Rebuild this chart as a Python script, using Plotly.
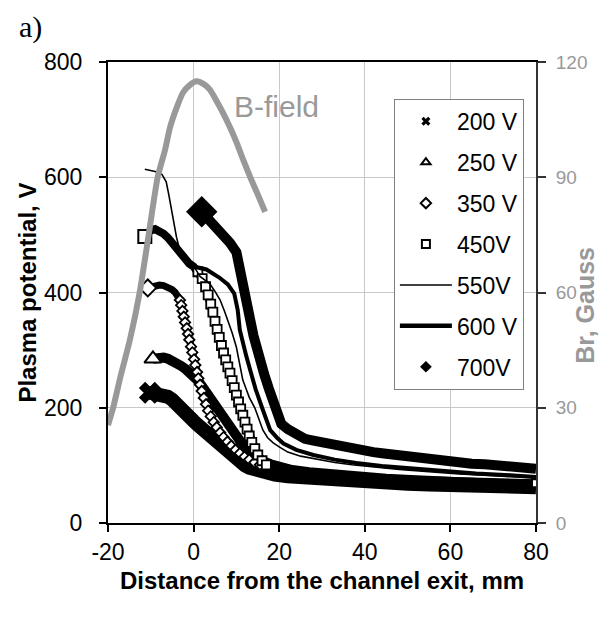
import plotly.graph_objects as go

# ---- plasma potential profiles: distance from channel exit (mm) / potential (V)
x_200 = [-10.2, -9, -8, -7, -6, -5, -4, -3, -2, -1, 0, 1, 2, 3, 4, 5, 6, 7, 8, 9, 10, 11, 12, 13, 14, 15,
         17, 19, 22, 25, 30, 35, 40, 45, 50, 55, 60, 65, 70, 75, 80]
v_200 = [226, 225, 224, 222, 219, 214, 208, 200, 192, 185, 177, 170, 163, 156, 149, 142, 137, 131, 125, 118,
         111, 105, 100, 96, 93, 91, 87, 84, 81, 79, 76, 74, 72, 70, 68, 67, 66, 65, 64, 63, 62]

x_250 = [-9.5, -8, -7, -6, -5, -4, -3, -2, -1, 0, 1, 2, 3, 4, 5, 6, 7, 8, 9, 10, 11, 12, 13, 14, 15, 16,
         18, 20, 23, 27, 32, 38, 45, 52, 60, 68, 75, 80]
v_250 = [285, 287, 287, 285, 282, 278, 273, 268, 262, 255, 247, 237, 226, 216, 207, 196, 185, 172, 159, 148,
         139, 130, 123, 117, 112, 108, 102, 97, 92, 88, 84, 80, 77, 74, 71, 69, 67, 65]

x_350 = [-10.7, -10, -9, -8, -7, -6, -5, -4.3, -3.7, -3.2, -2.9, -2.6, -2.3, -2.0, -1.6, -1.3, -1.0, -0.6,
         -0.3, 0.1, 0.4, 0.8, 1.1, 1.5, 1.9, 2.4, 2.9, 3.4, 4.0, 4.7, 5.4, 6.2, 7.0, 7.9, 8.8, 9.8, 10.8,
         11.9, 13.0, 14.2, 15.5, 17, 19, 21, 24, 28, 33, 39, 46, 53, 60, 67, 74, 80]
v_350 = [408, 410, 413, 413, 412, 410, 405, 400, 394, 387, 378, 368, 358, 348, 338, 328, 318, 306, 296, 284,
         274, 262, 251, 240, 229, 217, 206, 195, 185, 175, 166, 157, 149, 141, 134, 127, 121, 115, 110, 105,
         101, 97, 93, 90, 87, 84, 81, 78, 76, 74, 72, 70, 68, 67]

x_450 = [-11.4, -10, -9, -8, -7, -6, -5, -4, -3, -2, -1, 0, 1, 2, 2.8, 3.4, 4.0, 4.5, 5.0, 5.5, 6.0, 6.5,
         7.0, 7.5, 8.0, 8.5, 9.0, 9.5, 10.0, 10.5, 11.0, 11.5, 12.0, 12.5, 13.0, 13.6, 14.3, 15.0, 16.0,
         17.0, 18.5, 20, 23, 27, 32, 38, 45, 52, 60, 68, 75, 80]
v_450 = [497, 508, 510, 507, 502, 495, 486, 476, 466, 457, 450, 445, 436, 424, 410, 396, 380, 366, 350, 336,
         322, 308, 295, 283, 271, 260, 247, 235, 222, 210, 198, 187, 175, 163, 151, 140, 129, 118, 108, 101,
         95, 91, 87, 84, 81, 78, 76, 74, 72, 71, 70, 69]

x_550 = [-11.4, -9, -7.4, -6.4, -5.8, -5.2, -4.6, -4.0, -3.4, -2.5, -1, 0.5, 1.5, 3.8, 5.0, 6.2, 7.2, 8.0,
         9.0, 10.0, 10.8, 11.5, 12.3, 13.0, 14.3, 15.2, 16.2, 17.3, 18.6, 20, 22, 25, 29, 33, 37, 42, 48,
         55, 62, 70, 80]
v_550 = [614, 610, 605, 592, 570, 545, 520, 496, 478, 465, 452, 440, 428, 415, 402, 387, 368, 352, 330, 305,
         272, 248, 232, 218, 200, 180, 161, 148, 139, 132, 123, 116, 110, 105, 101, 97, 93, 89, 85, 82, 78]

x_600 = [-9.7, -8, -6, -4, -2, 0, 3, 6, 8, 9.5, 10.3, 10.8, 11.5, 12.3, 13.2, 14.5, 16.0, 17.0, 17.9, 19.5,
         21, 24, 28, 33, 38, 44, 50, 58, 66, 74, 80]
v_600 = [508, 508, 498, 478, 458, 445, 440, 426, 414, 398, 370, 335, 312, 290, 266, 232, 200, 178, 161, 148,
         138, 127, 118, 110, 104, 99, 95, 90, 86, 83, 80]

x_700 = [1.9, 3.5, 5.5, 7, 8.5, 10, 10.8, 11.5, 12, 12.7, 13.3, 14, 14.6, 15.5, 16.5, 17.5, 18.5, 19.5, 20.5,
         22, 24, 26, 28, 30, 32, 34, 36, 38, 40, 42, 44, 46, 48, 50, 53, 56, 59, 62, 65, 68, 71, 74, 77, 80]
v_700 = [540, 528, 514, 500, 486, 470, 445, 420, 399, 375, 350, 325, 305, 280, 258, 235, 210, 188, 172, 163,
         152, 146, 143, 140, 136, 132, 129, 125, 126, 123, 121, 119, 117, 114, 112, 109, 106, 104, 103, 102,
         101, 99, 97, 94]

# ---- radial magnetic field (Gauss)
x_bfield = [-20, -18.8, -17, -14.9, -12.6, -10.5, -8.4, -6.7, -5.5, -4, -2.5, -0.9, 0.7, 2.3, 3.8, 5.3, 6.9,
            8.5, 10.1, 11.6, 13.2, 15, 16.7]
br_bfield = [25.5, 30, 38.5, 47.6, 60, 75, 90, 97, 103, 108, 112, 114, 115, 114.3, 112.8, 110, 106.7, 103,
             98.9, 94.5, 90.1, 85.5, 81]

x_ticks = [-20, 0, 20, 40, 60, 80]
v_ticks = [0, 200, 400, 600, 800]
br_ticks = [0, 30, 60, 90, 120]
legend_names = ["200 V", "250 V", "350 V", "450V", "550V", "600 V", "700V"]

FONT = "Liberation Sans, Arial, sans-serif"
BLACK = "#000000"
GREY = "#999999"

fig = go.Figure()


def band(xs, ys, width):
    fig.add_trace(go.Scatter(x=xs, y=ys, mode="lines", showlegend=False, hoverinfo="skip",
                             line=dict(color=BLACK, width=width)))


def beads(xs, ys, lo, hi, symbol, size):
    sel = [(a, b) for a, b in zip(xs, ys) if lo <= a <= hi]
    fig.add_trace(go.Scatter(x=[p[0] for p in sel], y=[p[1] for p in sel], mode="markers",
                             showlegend=False, hoverinfo="skip",
                             marker=dict(symbol=symbol, size=size, color="white",
                                         line=dict(color=BLACK, width=1.8))))


def start_marker(xs, ys, symbol, size, fill):
    fig.add_trace(go.Scatter(x=xs[:1], y=ys[:1], mode="markers", showlegend=False, hoverinfo="skip",
                             marker=dict(symbol=symbol, size=size, color=fill,
                                         line=dict(color=BLACK, width=2))))


# 200 V
band(x_200, v_200, 14)
start_marker(x_200, v_200, "x", 17, BLACK)
# 250 V
band(x_250, v_250, 10)
start_marker(x_250, v_250, "triangle-up", 15, "white")
# 350 V
band(x_350, v_350, 7)
beads(x_350, v_350, -3.5, 16, "diamond", 8)
start_marker(x_350, v_350, "diamond", 13, "white")
# 450 V
band(x_450, v_450, 8)
beads(x_450, v_450, 1, 17.5, "square", 9)
start_marker(x_450, v_450, "square", 13, "white")
fig.add_trace(go.Scatter(x=x_450[-1:], y=v_450[-1:], mode="markers", showlegend=False, hoverinfo="skip",
                         marker=dict(symbol="square", size=8, color="white",
                                     line=dict(color=BLACK, width=2))))
# 550 V
band(x_550, v_550, 1.6)
# 600 V
band(x_600, v_600, 4)
# 700 V
band(x_700, v_700, 10)
start_marker(x_700, v_700, "diamond", 22, BLACK)

# B-field on the secondary axis
fig.add_trace(go.Scatter(x=x_bfield, y=br_bfield, yaxis="y2", mode="lines", showlegend=False,
                         hoverinfo="skip", line=dict(color=GREY, width=6, shape="spline", smoothing=0.6)))

# legend entries
legend_styles = [
    dict(mode="markers", marker=dict(symbol="x", size=8, color=BLACK)),
    dict(mode="markers", marker=dict(symbol="triangle-up-open", size=8, color=BLACK, line=dict(width=2))),
    dict(mode="markers", marker=dict(symbol="diamond-open", size=8, color=BLACK, line=dict(width=2))),
    dict(mode="markers", marker=dict(symbol="square-open", size=8, color=BLACK, line=dict(width=2))),
    dict(mode="lines", line=dict(color=BLACK, width=1.5)),
    dict(mode="lines", line=dict(color=BLACK, width=4.5)),
    dict(mode="markers", marker=dict(symbol="diamond", size=9, color=BLACK)),
]
for i, (name, style) in enumerate(zip(legend_names, legend_styles)):
    fig.add_trace(go.Scatter(x=[None], y=[None], name=name, legendgroup=f"g{i}", showlegend=True, **style))

fig.update_layout(
    width=600, height=618,
    margin=dict(l=108, r=64, t=62, b=95),
    paper_bgcolor="white", plot_bgcolor="white",
    font=dict(family=FONT, size=23, color=BLACK),
    xaxis=dict(range=[-20, 80], tickvals=x_ticks, ticktext=[str(t) for t in x_ticks],
               ticks="outside", ticklen=7, tickwidth=1.5,
               tickcolor=BLACK, showline=True, linecolor=BLACK, linewidth=2, mirror=True,
               showgrid=True, gridcolor="#c8c8c8", gridwidth=1, zeroline=False,
               tickfont=dict(size=23, color=BLACK)),
    yaxis=dict(range=[0, 800], tickvals=v_ticks, ticks="outside", ticklen=7, tickwidth=1.5,
               tickcolor=BLACK, showline=True, linecolor=BLACK, linewidth=2,
               showgrid=True, gridcolor="#c8c8c8", gridwidth=1, zeroline=False,
               ticklabelstandoff=12, tickfont=dict(size=23, color=BLACK)),
    yaxis2=dict(range=[0, 120], tickvals=br_ticks, overlaying="y", side="right", ticks="outside",
                ticklen=8, tickwidth=1.5, tickcolor="#333333", showline=True, linecolor="#333333",
                linewidth=2, showgrid=False, zeroline=False, ticklabelstandoff=6,
                tickfont=dict(size=19, color=GREY)),
    legend=dict(x=0.668, y=0.92, xanchor="left", yanchor="top", bgcolor="white",
                bordercolor="#808080", borderwidth=1, font=dict(size=23, color=BLACK),
                tracegroupgap=8, itemwidth=52),
    annotations=[
        dict(text="<b>Distance from the channel exit, mm</b>", xref="paper", yref="paper",
             x=0.5, y=-0.124, xanchor="center", yanchor="middle", showarrow=False,
             font=dict(size=24, color=BLACK)),
        dict(text="<b>Plasma potential, V</b>", xref="paper", yref="paper", x=-0.189, y=0.5,
             textangle=-90, xanchor="center", yanchor="middle", showarrow=False,
             font=dict(size=24, color=BLACK)),
        dict(text="<b>Br, Gauss</b>", xref="paper", yref="paper", x=1.114, y=0.473,
             textangle=-90, xanchor="center", yanchor="middle", showarrow=False,
             font=dict(size=25, color=GREY)),
        dict(text="B-field", xref="x", yref="y", x=9.0, y=722, xanchor="left", yanchor="middle",
             showarrow=False, font=dict(size=30, color=GREY)),
        dict(text="a)", xref="paper", yref="paper", x=-0.18, y=1.076, xanchor="center",
             yanchor="middle", showarrow=False,
             font=dict(family="Liberation Serif, Times New Roman, serif", size=30, color=BLACK)),
    ],
)

fig.write_html("out.html")
